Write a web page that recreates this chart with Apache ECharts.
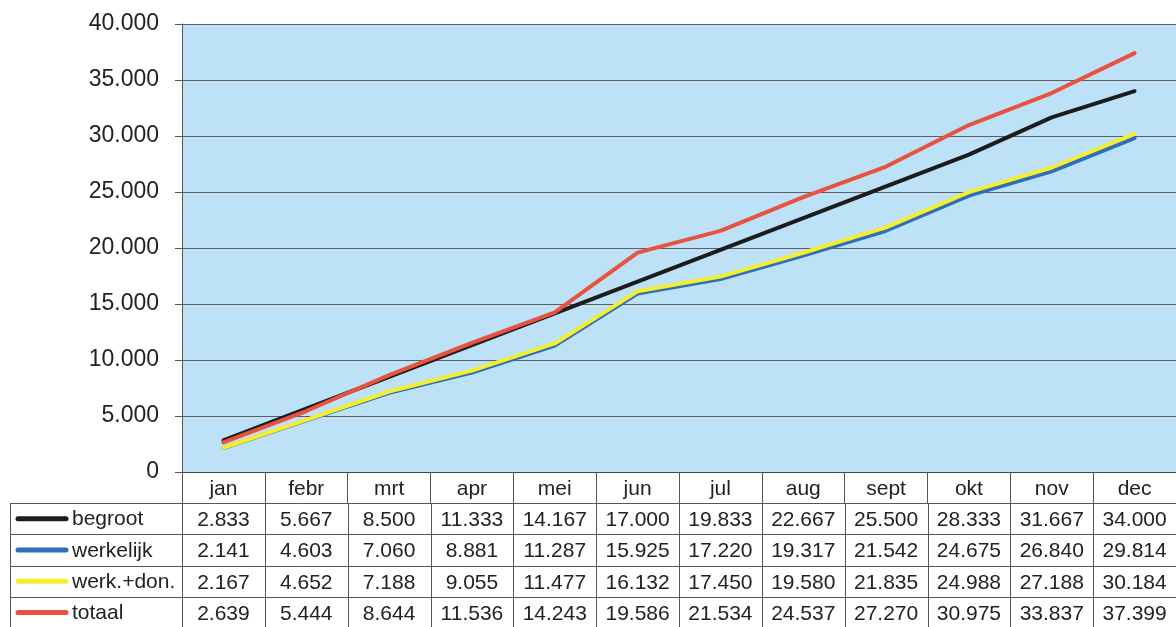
<!DOCTYPE html>
<html><head><meta charset="utf-8">
<script src="https://cdn.jsdelivr.net/npm/echarts@6/dist/echarts.min.js"></script>
<style>html,body{margin:0;padding:0;background:#fff}#c{width:1176px;height:627px}</style>
</head><body><div id="c"></div>
<script>
const months = ['jan','febr','mrt','apr','mei','jun','jul','aug','sept','okt','nov','dec'];
const begroot = [2833,5667,8500,11333,14167,17000,19833,22667,25500,28333,31667,34000];
const werkelijk = [2141,4603,7060,8881,11287,15925,17220,19317,21542,24675,26840,29814];
const werkDon = [2167,4652,7188,9055,11477,16132,17450,19580,21835,24988,27188,30184];
const totaal = [2639,5444,8644,11536,14243,19586,21534,24537,27270,30975,33837,37399];
const seriesNames = ['begroot','werkelijk','werk.+don.','totaal'];
const yTicks = [0,5000,10000,15000,20000,25000,30000,35000,40000];

const colors = {'begroot':'#1c1c1c','werkelijk':'#2e6fbd','werk.+don.':'#f4ee2e','totaal':'#e8533f'};
const dataByName = {'begroot':begroot,'werkelijk':werkelijk,'werk.+don.':werkDon,'totaal':totaal};
const FONT = '"Liberation Sans", Arial, sans-serif';

function fmt(v){
  if (v < 1000) return String(v);
  const t = Math.floor(v/1000), r = v % 1000;
  return t + '.' + String(r).padStart(3,'0');
}

const chart = echarts.init(document.getElementById('c'), null, {renderer:'canvas'});
const drawOrder = ['werkelijk','werk.+don.','begroot','totaal'];
chart.setOption({
  animation:false,
  backgroundColor:'#fff',
  grid:{left:182, right:-1, top:24, bottom:155, show:true, backgroundColor:'#bde1f7', borderWidth:0},
  xAxis:{type:'category', data:months, boundaryGap:true,
    axisLine:{show:true, lineStyle:{color:'#444', width:1}},
    axisTick:{show:true, interval:0, length:31, inside:false, lineStyle:{color:'#555'}},
    axisLabel:{interval:0, margin:7, fontSize:21, color:'#222', fontFamily:FONT}
  },
  yAxis:{type:'value', min:yTicks[0], max:yTicks[yTicks.length-1], interval:5000,
    axisLine:{show:true, lineStyle:{color:'#555'}},
    axisTick:{show:true, length:7, lineStyle:{color:'#555'}},
    splitLine:{show:true, lineStyle:{color:'#5e5e5e', width:1}},
    axisLabel:{margin:23, fontSize:23, color:'#222', fontFamily:FONT, formatter:v=>fmt(v)}
  },
  series: drawOrder.map(n=>({name:n, type:'line', data:dataByName[n], showSymbol:false, symbol:'none',
    lineStyle:{color:colors[n], width:4, cap:'round', join:'round'}, z:2}))
});

// data table below the chart
const rowTop = 503, rowH = 31.3, leftX = 10, rightX = 1177;
const xAt = i => chart.convertToPixel({xAxisIndex:0}, i);
const half = (xAt(1) - xAt(0)) / 2;
const g = [];
const lineCol = '#555';
for (let r = 0; r <= seriesNames.length; r++) {
  const y = Math.round(rowTop + r*rowH) + 0.5;
  g.push({type:'line', shape:{x1:leftX, y1:y, x2:rightX, y2:y}, style:{stroke:lineCol, lineWidth:1}, silent:true});
}
const xs = [leftX];
for (let i = 0; i <= months.length; i++) xs.push(xAt(0) - half + i*2*half);
xs.forEach(x=>{
  const xx = Math.round(x)+0.5;
  g.push({type:'line', shape:{x1:xx, y1:rowTop, x2:xx, y2:rowTop+seriesNames.length*rowH}, style:{stroke:lineCol, lineWidth:1}, silent:true});
});
seriesNames.forEach((n, r)=>{
  const cy = rowTop + r*rowH + rowH/2;
  g.push({type:'line', shape:{x1:18, y1:cy, x2:66, y2:cy}, style:{stroke:colors[n], lineWidth:5, lineCap:'round'}, silent:true});
  g.push({type:'text', x:72, y:cy+1, style:{text:n, fontSize:21, fontFamily:FONT, fill:'#222', verticalAlign:'middle', align:'left'}, silent:true});
  dataByName[n].forEach((v,i)=>{
    g.push({type:'text', x:xAt(i), y:cy+1.5, style:{text:fmt(v), fontSize:21, fontFamily:FONT, fill:'#222', verticalAlign:'middle', align:'center'}, silent:true});
  });
});
chart.setOption({graphic:{elements:g}});
</script></body></html>
